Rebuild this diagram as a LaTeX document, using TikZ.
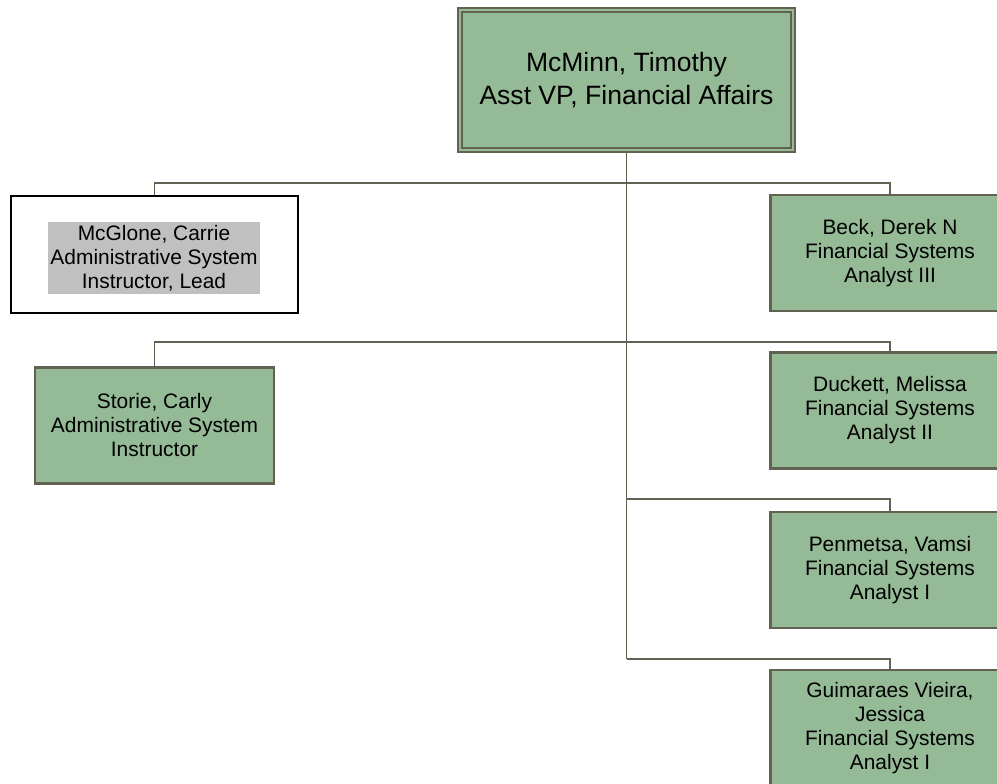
\documentclass[tikz,border=0pt]{standalone}
\usepackage{fontspec}
\setmainfont{Liberation Sans}
\usetikzlibrary{calc}
\definecolor{boxgreen}{RGB}{148,186,150}
\definecolor{boxline}{RGB}{98,98,82}
\definecolor{hlgray}{RGB}{192,192,192}
\tikzset{
  person/.style={draw=boxline, fill=boxgreen, line width=1.6pt, align=center,
    minimum width=239*0.75pt, minimum height=116*0.75pt, inner sep=0pt,
    font=\fontsize{15.7}{18}\selectfont},
  topbox/.style={draw=boxline, fill=boxgreen, line width=1.6pt, align=center,
    minimum width=337*0.75pt, minimum height=144*0.75pt, inner sep=0pt,
    font=\fontsize{19.9}{24.75}\selectfont},
  plainbox/.style={draw=black, fill=white, line width=1.6pt,
    minimum width=287*0.75pt, minimum height=117*0.75pt, inner sep=0pt},
  hltext/.style={fill=hlgray, align=center, inner xsep=2pt, inner ysep=2pt,
    font=\fontsize{15.7}{18}\selectfont},
  conn/.style={draw=boxline, line width=1.4pt}
}
\begin{document}
\begin{tikzpicture}[x=0.75pt,y=-0.75pt]
\useasboundingbox (0,0) rectangle (997,783);
\clip (0,0) rectangle (997,783);
\node[topbox] (top) at (626.5,80) {McMinn, Timothy\\Asst VP, Financial Affairs};
\draw[boxline, line width=1.6pt] ($(top.south west)+(5,-5)$) rectangle ($(top.north east)+(-5,5)$);

\node[plainbox] (mcglone) at (154.5,254.5) {};
\node[hltext] (mcglonetext) at (154,258) {McGlone, Carrie\\Administrative System\\Instructor, Lead};
\node[person] (beck) at (890,253) {Beck, Derek N\\Financial Systems\\Analyst III};
\node[person] (storie) at (154.5,425.5) {Storie, Carly\\Administrative System\\Instructor};
\node[person] (duckett) at (890,410.5) {Duckett, Melissa\\Financial Systems\\Analyst II};
\node[person] (penmetsa) at (890,570) {Penmetsa, Vamsi\\Financial Systems\\Analyst I};
\node[person] (guim) at (890,728) {Guimaraes Vieira,\\Jessica\\Financial Systems\\Analyst I};

\coordinate (j1) at (626.5,183);
\coordinate (j2) at (626.5,342);
\coordinate (j3) at (626.5,499);
\coordinate (j4) at (626.5,659);

\draw[conn] (top.south) -- (j4);
\draw[conn] (j1) -| (mcglone.north);
\draw[conn] (j1) -| (beck.north);
\draw[conn] (j2) -| (storie.north);
\draw[conn] (j2) -| (duckett.north);
\draw[conn] (j3) -| (penmetsa.north);
\draw[conn] (j4) -| (guim.north);
\end{tikzpicture}
\end{document}
